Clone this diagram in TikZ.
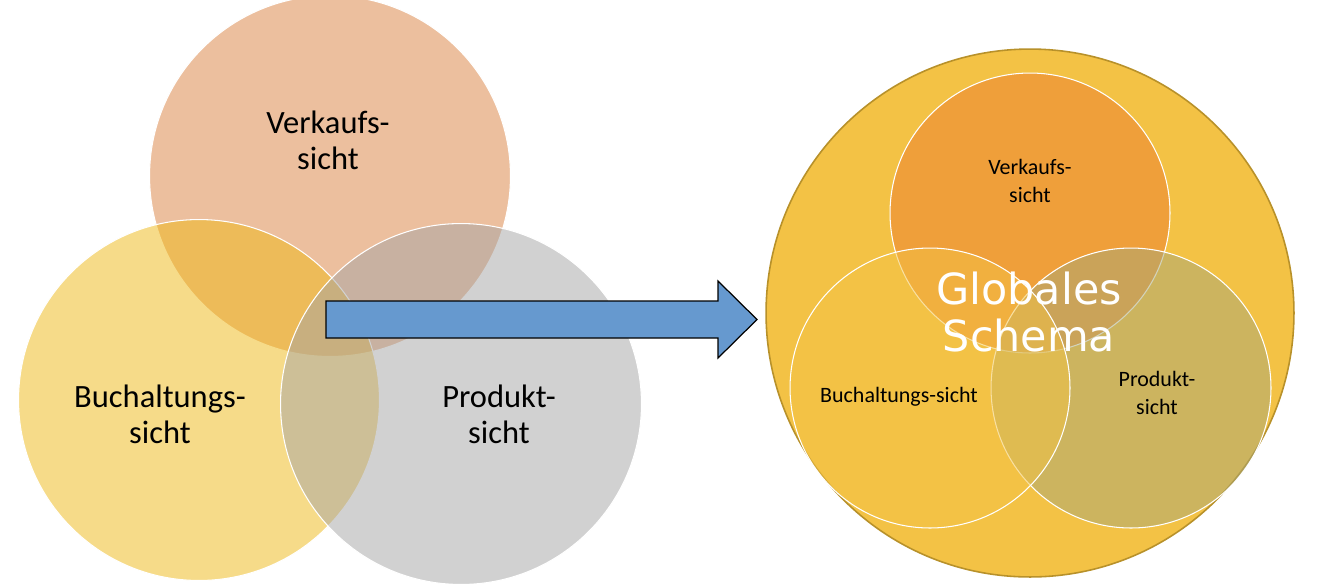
\documentclass[tikz,border=0pt]{standalone}
\usepackage{fontspec}
\setmainfont{Carlito}
\newfontfamily\schemafont{DejaVu Sans}
\usepackage{tikz}
\usetikzlibrary{positioning}
\definecolor{Orange}{HTML}{DB813F}
\definecolor{Gold}{HTML}{EFB915}
\definecolor{Grey}{HTML}{A5A5A5}
\definecolor{Orange2}{HTML}{ED7D31}
\definecolor{Amber}{HTML}{F3C245}
\definecolor{AmberLine}{HTML}{B8912A}
\definecolor{Olive}{HTML}{A7A879}
\definecolor{Blue}{HTML}{6699CF}

\tikzset{
  sight/.style={circle,draw=white,line width=0.6pt,fill opacity=0.5,inner sep=0pt,outer sep=0pt,minimum size=7.22cm},
  subsight/.style={sight,minimum size=5.6cm},
  bigtext/.style={font=\fontsize{18.5}{20.6}\selectfont,align=center},
  smalltext/.style={font=\fontsize{12.5}{15.9}\selectfont,align=center},
}

\begin{document}
\begin{tikzpicture}[x=0.02cm,y=-0.02cm]
\path[use as bounding box] (0,0) rectangle (1331,583);
\fill[white] (0,0) rectangle (1331,583);

% three separate views
\node[sight,fill=Orange] (verkauf) at (330,176) {};
\node[sight,fill=Gold] (buch) at (199,400) {};
\node[sight,fill=Grey] (produkt) at (461,404) {};
\node[bigtext] (verkauflab) at (328,140) {Verkaufs-\\sicht};
\node[bigtext] (buchlab) at (160,414) {Buchaltungs-\\sicht};
\node[bigtext] (produktlab) at (499,414) {Produkt-\\sicht};

% block arrow
\draw[fill=Blue,line width=0.7pt,line join=miter] (326,301) -- (718,301) -- (718,281) -- (757,319.5)
  -- (718,358) -- (718,338) -- (326,338) -- cycle;

% integrated schema
\node[circle,fill=Amber,draw=AmberLine,line width=0.9pt,inner sep=0pt,minimum size=10.56cm] (global) at (1030,313) {};
\node[subsight,fill=Orange2] (verkauf2) at (1030,213) {};
\node[subsight,fill=Olive] (produkt2) at (1131,388) {};
\node[subsight,fill=Amber] (buch2) at (930,388) {};
\node[smalltext] (verkauf2lab) at (1030,181) {Verkaufs-\\sicht};
\node[smalltext] (buch2lab) at (899,397) {Buchaltungs-sicht};
\node[smalltext] (produkt2lab) at (1157,393) {Produkt-\\sicht};
\node[font=\schemafont\fontsize{24.4}{26.6}\selectfont,align=center,text=white] (schema) at (1029,312) {Globales\\Schema};
\end{tikzpicture}
\end{document}
